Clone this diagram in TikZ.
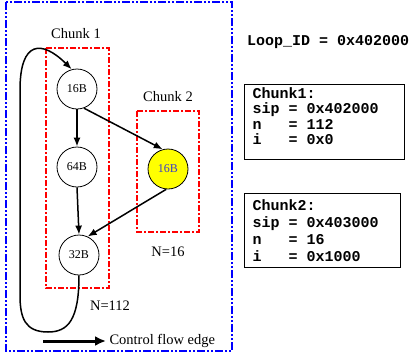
\documentclass[tikz,border=0pt]{standalone}
\usepackage{fontspec}
\setmainfont{Liberation Serif}
\newfontfamily\codefont{Liberation Mono}
\usetikzlibrary{arrows.meta}
\definecolor{chunkred}{RGB}{255,0,0}
\definecolor{frameblue}{RGB}{0,0,255}
\definecolor{hotyellow}{RGB}{255,255,0}
\definecolor{hottext}{RGB}{60,60,200}
\newcommand{\blank}{\hphantom{0}}

\begin{document}
\begin{tikzpicture}[x={(1pt,0pt)}, y={(0pt,-1pt)},
  bnode/.style={draw,circle,fill=white,line width=0.8pt,minimum size=40pt,inner sep=0pt,font=\fontsize{12}{14}\selectfont},
  chunkbox/.style={draw=chunkred,line width=1.5pt,dash pattern=on 6pt off 2pt on 2pt off 2pt},
  tag/.style={font=\fontsize{14.5}{17}\selectfont},
  codebox/.style={draw,line width=1pt,anchor=north west,align=left,inner xsep=8pt,inner ysep=3pt},
  flow/.style={->,line width=1.5pt},
  >={Latex[length=9pt,width=7pt]}]
  \useasboundingbox (0,0) rectangle (410,354);

  % Frame and chunks
  \draw[frameblue,line width=2pt,dash pattern=on 8pt off 2pt on 2pt off 2pt on 2pt off 2pt] (6,2) rectangle (232,351);
  \draw[chunkbox] (46,48) rectangle (109,288);
  \draw[chunkbox] (137,111) rectangle (199,232);

  % Nodes
  \node[tag] (chunk1) at (76,34) {Chunk 1};
  \node[tag] (chunk2) at (168,97) {Chunk 2};
  \node[tag] (count2) at (168,252) {N=16};
  \node[tag] (count1) at (110,306) {N=112};

  \node[bnode] (n16a) at (77,89) {16B};
  \node[bnode] (n64) at (77,167) {64B};
  \node[bnode] (n32) at (79,255) {32B};
  \node[bnode,fill=hotyellow,text=hottext] (n16b) at (168,169) {16B};

  \coordinate (legstart) at (43,341);
  \node[tag,anchor=west] (legend) at (106,341) {Control flow edge};

  \node[anchor=base west,inner sep=0pt,font=\codefont\bfseries\fontsize{15}{17}\selectfont] (loopid) at (247,45) {Loop\_ID\blank=\blank0x402000};
  \node[codebox,text width=144pt,minimum height=75pt,text depth=58.5pt,font=\codefont\bfseries\fontsize{15}{15.5}\selectfont] (info1) at (244,84)
    {Chunk1:\\ sip\blank=\blank0x402000\\ n\blank\blank\blank=\blank112\\ i\blank\blank\blank=\blank0x0};
  \node[codebox,text width=140pt,minimum height=74pt,font=\codefont\bfseries\fontsize{15}{17}\selectfont] (info2) at (244,193)
    {Chunk2:\\ sip\blank=\blank0x403000\\ n\blank\blank\blank=\blank16\\ i\blank\blank\blank=\blank0x1000};

  % Edges
  \draw[flow] (n16a.270) -- (n64.90);
  \draw[flow] (n64.270) -- (n32.90);
  \draw[flow] (n16a.-70) -- (n16b.105);
  \draw[flow] (n16b.265) -- (n32.65);

  % Loop
  \draw[flow] (n32.270) .. controls (79,320) and (68,332) .. (48,332)
    .. controls (25,332) and (20,318) .. (20,295) -- (20,90)
    .. controls (20,40) and (42,40) .. (n16a.105);

  % Legend
  \draw[->,line width=3pt,>={Latex[length=11pt,width=10pt]}] (legstart) -- (legend.west);
\end{tikzpicture}
\end{document}
